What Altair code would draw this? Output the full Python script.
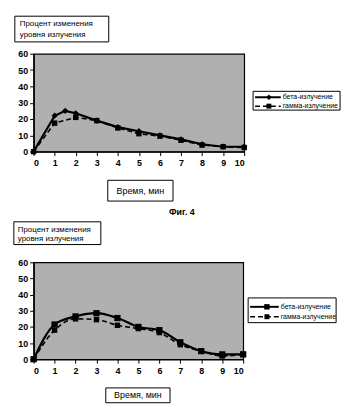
import altair as alt
import pandas as pd

# ---- data ----
x1_beta = [0, 1, 1.5, 2, 3, 4, 5, 6, 7, 8, 9, 10]
y1_beta = [0, 22, 25, 23.5, 19, 15, 12.5, 10, 7.5, 4.5, 3, 3]
x1_gamma = [0, 1, 2, 3, 4, 5, 6, 7, 8, 9, 10]
y1_gamma = [0, 17.5, 21, 19, 14.5, 11, 9.5, 7, 4, 3, 2.5]

x2 = [0, 1, 2, 3, 4, 5, 6, 7, 8, 9, 10]
y2_beta = [0, 21.5, 26.5, 28.5, 25.5, 20, 18, 10.5, 5, 3, 3]
y2_gamma = [0, 18, 25, 24.5, 21, 19, 16.5, 9, 5, 2, 3]

x_ticks = [0, 1, 2, 3, 4, 5, 6, 7, 8, 9, 10]
y_ticks = [0, 10, 20, 30, 40, 50, 60]
series_names = ["бета-излучение", "гамма-излучение"]
y_title_lines = ["Процент изменения", "уровня излучения"]
x_title = "Время, мин"
fig_label = "Фиг. 4"

FONT = "Liberation Sans"
one = pd.DataFrame({"k": [0]})


def panel(bx, by, gx, gy, w, h, smooth, beta_shape, lay):
    df_b = pd.DataFrame({"x": bx, "y": by})
    df_g = pd.DataFrame({"x": gx, "y": gy})
    xs = alt.X("x:Q", scale=alt.Scale(domain=[0, 10], nice=False),
               axis=alt.Axis(values=x_ticks, title=None, grid=False, format="d",
                             labelFont=FONT, labelFontSize=9, labelFontWeight="bold",
                             labelColor="black", tickColor="black", domainColor="black",
                             domainWidth=1.5, tickSize=4, labelPadding=3))
    ys = alt.Y("y:Q", scale=alt.Scale(domain=[0, 60], nice=False),
               axis=alt.Axis(values=y_ticks, title=None, grid=False,
                             labelFont=FONT, labelFontSize=9, labelFontWeight="bold",
                             labelColor="black", tickColor="black", domainColor="black",
                             domainWidth=1.5, tickSize=4, labelPadding=2))
    interp = "monotone" if smooth else "linear"
    beta_line = alt.Chart(df_b).mark_line(color="black", strokeWidth=2.2, interpolate=interp).encode(x=xs, y=ys)
    beta_pts = alt.Chart(df_b).mark_point(color="black", filled=True, opacity=1,
                                          shape=beta_shape, size=40).encode(x=xs, y=ys)
    gam_line = alt.Chart(df_g).mark_line(color="black", strokeWidth=1.6, strokeDash=[5, 3],
                                         interpolate=interp).encode(x=xs, y=ys)
    gam_pts = alt.Chart(df_g).mark_square(color="black", filled=True, opacity=1, size=30).encode(x=xs, y=ys)

    layers = [beta_line, gam_line, beta_pts, gam_pts]

    def box(x1, x2_, y1, y2_):
        return alt.Chart(one).mark_rect(fill="white", stroke="black", strokeWidth=1).encode(
            x=alt.value(x1), x2=alt.value(x2_), y=alt.value(y1), y2=alt.value(y2_))

    def txt(s, x, y, size, align="left", weight="normal"):
        return alt.Chart(one).mark_text(text=s, font=FONT, fontSize=size, align=align,
                                        baseline="middle", color="black", fontWeight=weight).encode(
            x=alt.value(x), y=alt.value(y))

    tb = lay["title_box"]
    layers.append(box(*tb))
    layers.append(txt(y_title_lines[0], lay["title_x"], lay["title_y"][0], 8))
    layers.append(txt(y_title_lines[1], lay["title_x"], lay["title_y"][1], 8))
    xb = lay["x_box"]
    layers.append(box(*xb))
    layers.append(txt(x_title, (xb[0] + xb[1]) / 2, (xb[2] + xb[3]) / 2, 9, align="center"))
    lb = lay["leg_box"]
    layers.append(box(*lb))
    lx0, lx1, mx, tx = lay["leg_x"]
    ly = lay["leg_y"]
    layers.append(alt.Chart(one).mark_rule(color="black", strokeWidth=2).encode(
        x=alt.value(lx0), x2=alt.value(lx1), y=alt.value(ly[0])))
    layers.append(alt.Chart(one).mark_point(color="black", filled=True, opacity=1,
                                            shape=beta_shape, size=30).encode(
        x=alt.value(mx), y=alt.value(ly[0])))
    layers.append(alt.Chart(one).mark_rule(color="black", strokeWidth=1.5, strokeDash=[5, 3]).encode(
        x=alt.value(lx0), x2=alt.value(lx1), y=alt.value(ly[1])))
    layers.append(alt.Chart(one).mark_square(color="black", filled=True, opacity=1, size=25).encode(
        x=alt.value(mx), y=alt.value(ly[1])))
    layers.append(txt(series_names[0], tx, ly[0], 7))
    layers.append(txt(series_names[1], tx, ly[1], 7))
    if "fig" in lay:
        layers.append(txt(fig_label, lay["fig"][0], lay["fig"][1], 9, align="center", weight="bold"))

    return alt.layer(*layers).properties(width=w, height=h)


p1 = panel(x1_beta, y1_beta, x1_gamma, y1_gamma, 213, 99, False, "diamond", {
    "title_box": (-19, 76, -38, -12), "title_x": -14, "title_y": (-30, -19),
    "x_box": (75, 141, 128, 149),
    "leg_box": (222, 310, 38, 57), "leg_x": (224, 250, 238, 252), "leg_y": (44, 53),
})
p2 = panel(x2, y2_beta, x2, y2_gamma, 212, 98, True, "square", {
    "title_box": (-20, 68, -41, -18), "title_x": -16, "title_y": (-33, -24),
    "x_box": (73, 138, 127, 142),
    "leg_box": (217, 306, 36, 61), "leg_x": (219, 248, 236, 250), "leg_y": (45, 55),
    "fig": (150, -51),
})

chart = alt.vconcat(p1, p2, spacing=112, bounds="flush").properties(
    padding={"left": 12, "top": 12, "right": 4, "bottom": 4},
    background="white",
).configure_view(fill="#b0b0b0", stroke="black", strokeWidth=1.2)

chart.save("out.html", embed_options={"renderer": "svg", "actions": False})
